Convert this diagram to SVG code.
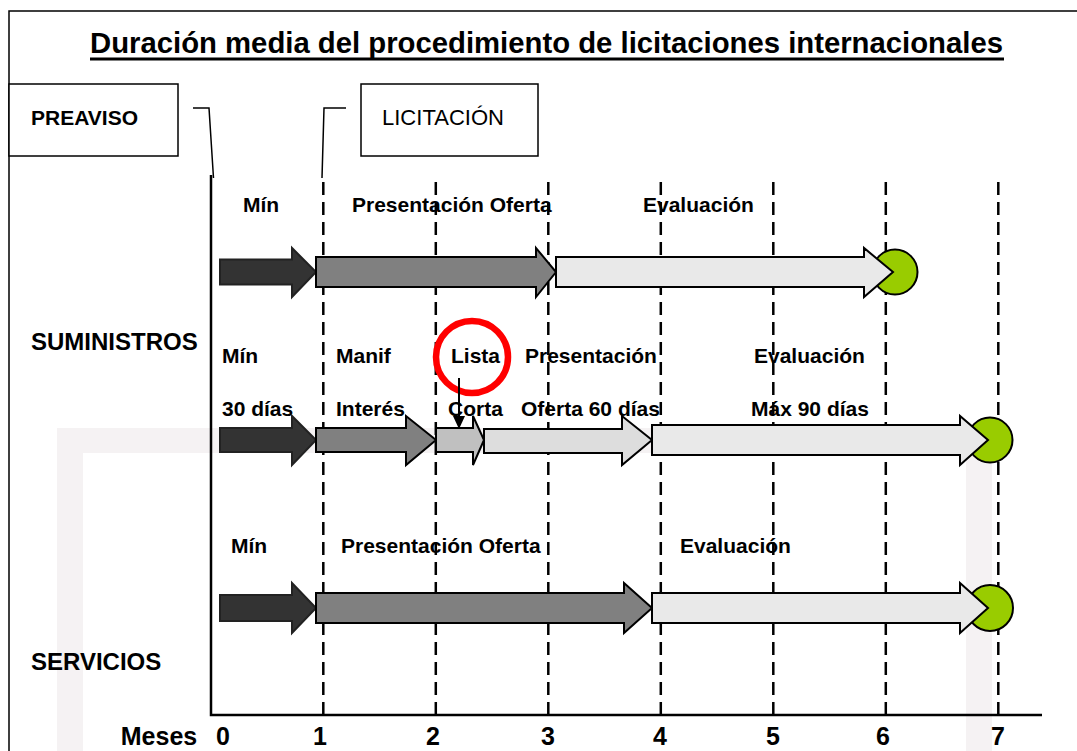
<svg xmlns="http://www.w3.org/2000/svg" width="1077" height="751" viewBox="0 0 1077 751">
<style>
text{font-family:"Liberation Sans",Arial,sans-serif;font-weight:bold;fill:#000}
.lbl{font-size:21px}
.row{font-size:24px}
.ax{font-size:25px;text-anchor:middle}
.dash{stroke:#000;stroke-width:2.5;stroke-dasharray:13 7;fill:none}
.arr{stroke:#000;stroke-width:2;stroke-linejoin:miter}
.dark{fill:#333333;stroke:#222}
.mid{fill:#808080}
.lt1{fill:#C0C0C0}
.lt2{fill:#DDDDDD}
.lt3{fill:#E9E9E9}
.end{fill:#99CC00;stroke:#000;stroke-width:2}
.band{fill:#F5F2F3}
.box{fill:#fff;stroke:#000;stroke-width:1.5}
</style>
<rect width="1077" height="751" fill="#fff"/>
<g id="background">
<rect class="band" x="57" y="428" width="935" height="25"/>
<rect class="band" x="57" y="428" width="26" height="323"/>
<rect class="band" x="966" y="428" width="26" height="323"/>
<polyline points="9,751 9,11 1077,11" fill="none" stroke="#000" stroke-width="1.5"/>
</g>
<g id="title">
<text x="90" y="53" font-size="30" textLength="913" lengthAdjust="spacingAndGlyphs">Duración media del procedimiento de licitaciones internacionales</text>
<line x1="90" y1="59" x2="1004" y2="59" stroke="#000" stroke-width="3"/>
</g>
<g id="preaviso">
<rect class="box" x="9" y="84" width="169" height="72"/>
<text x="31" y="125" font-size="21">PREAVISO</text>
</g>
<g id="licitacion">
<rect class="box" x="361" y="84" width="177" height="72"/>
<text x="382" y="125" font-size="22" style="font-weight:normal" textLength="122" lengthAdjust="spacingAndGlyphs">LICITACIÓN</text>
</g>
<g id="labels">
<text class="row" x="31" y="350">SUMINISTROS</text>
<text class="row" x="31" y="670">SERVICIOS</text>
<text class="lbl" x="243" y="212">Mín</text>
<text class="lbl" x="352" y="212">Presentación Oferta</text>
<text class="lbl" x="643" y="212">Evaluación</text>
<text class="lbl" x="222" y="363">Mín</text>
<text class="lbl" x="336" y="363">Manif</text>
<text class="lbl" x="451" y="363">Lista</text>
<text class="lbl" x="525" y="363">Presentación</text>
<text class="lbl" x="754" y="363">Evaluación</text>
<text class="lbl" x="222" y="416">30 días</text>
<text class="lbl" x="336" y="416">Interés</text>
<text class="lbl" x="448" y="416">Corta</text>
<text class="lbl" x="521" y="416">Oferta 60 días</text>
<text class="lbl" x="751" y="416">Máx 90 días</text>
<text class="lbl" x="231" y="553">Mín</text>
<text class="lbl" x="341" y="553">Presentación Oferta</text>
<text class="lbl" x="680" y="553">Evaluación</text>
</g>
<g id="connectors">
<polyline points="193,108 209,108 213.5,178" fill="none" stroke="#000" stroke-width="1.5"/>
<polyline points="346,108 324,108 322,178" fill="none" stroke="#000" stroke-width="1.5"/>
<line class="dash" x1="323.3" y1="182" x2="323.3" y2="715"/>
<line class="dash" x1="435.8" y1="182" x2="435.8" y2="715"/>
<line class="dash" x1="548.3" y1="182" x2="548.3" y2="715"/>
<line class="dash" x1="660.8" y1="182" x2="660.8" y2="715"/>
<line class="dash" x1="773.3" y1="182" x2="773.3" y2="715"/>
<line class="dash" x1="885.8" y1="182" x2="885.8" y2="715"/>
<line class="dash" x1="998.3" y1="182" x2="998.3" y2="715"/>
<polyline points="211,175 211,715 1042,715" fill="none" stroke="#000" stroke-width="2.5"/>
</g>
<g id="axis-labels">
<text class="ax" x="159" y="745">Meses</text>
<text class="ax" x="223" y="745">0</text>
<text class="ax" x="320" y="745">1</text>
<text class="ax" x="433" y="745">2</text>
<text class="ax" x="548" y="745">3</text>
<text class="ax" x="660" y="745">4</text>
<text class="ax" x="773" y="745">5</text>
<text class="ax" x="883" y="745">6</text>
<text class="ax" x="998" y="745">7</text>
</g>
<g id="suministros-1">
<circle class="end" cx="895" cy="272" r="22.5"/>
<polygon class="arr dark" points="220,259.5 292,259.5 292,248 316,272 292,297 292,284.5 220,284.5"/>
<polygon class="arr mid" points="316,257 536,257 536,248 556,272 536,297 536,287 316,287"/>
<polygon class="arr lt3" points="556,257 864,257 864,248 893,272 864,297 864,287 556,287"/>
</g>
<g id="suministros-2">
<circle class="end" cx="990" cy="440" r="22.5"/>
<polygon class="arr dark" points="220,428 292,428 292,416 316,440 292,465 292,452 220,452"/>
<polygon class="arr mid" points="316,428 406,428 406,416 436,440 406,465 406,452 316,452"/>
<polygon class="arr lt1" points="436,428 473,428 473,416 484,440 473,465 473,452 436,452"/>
<polygon class="arr lt2" points="484,429 622,429 622,416 652,440 622,465 622,453 484,453"/>
<polygon class="arr lt3" points="652,425 960,425 960,416 988,440 960,465 960,455 652,455"/>
</g>
<g id="servicios">
<circle class="end" cx="990" cy="608" r="23"/>
<polygon class="arr dark" points="220,595 292,595 292,583 316,608 292,633 292,621 220,621"/>
<polygon class="arr mid" points="316,593 624,593 624,583 652,608 624,633 624,623 316,623"/>
<polygon class="arr lt3" points="652,593 960,593 960,583 988,608 960,633 960,623 652,623"/>
</g>
<g id="lista-marker">
<circle cx="472" cy="357" r="36" fill="none" stroke="#FF0000" stroke-width="6.5"/>
<line x1="459" y1="378" x2="459" y2="418" stroke="#000" stroke-width="2"/>
<polygon points="453,416 465,416 459,429" fill="#000"/>
</g>
</svg>
